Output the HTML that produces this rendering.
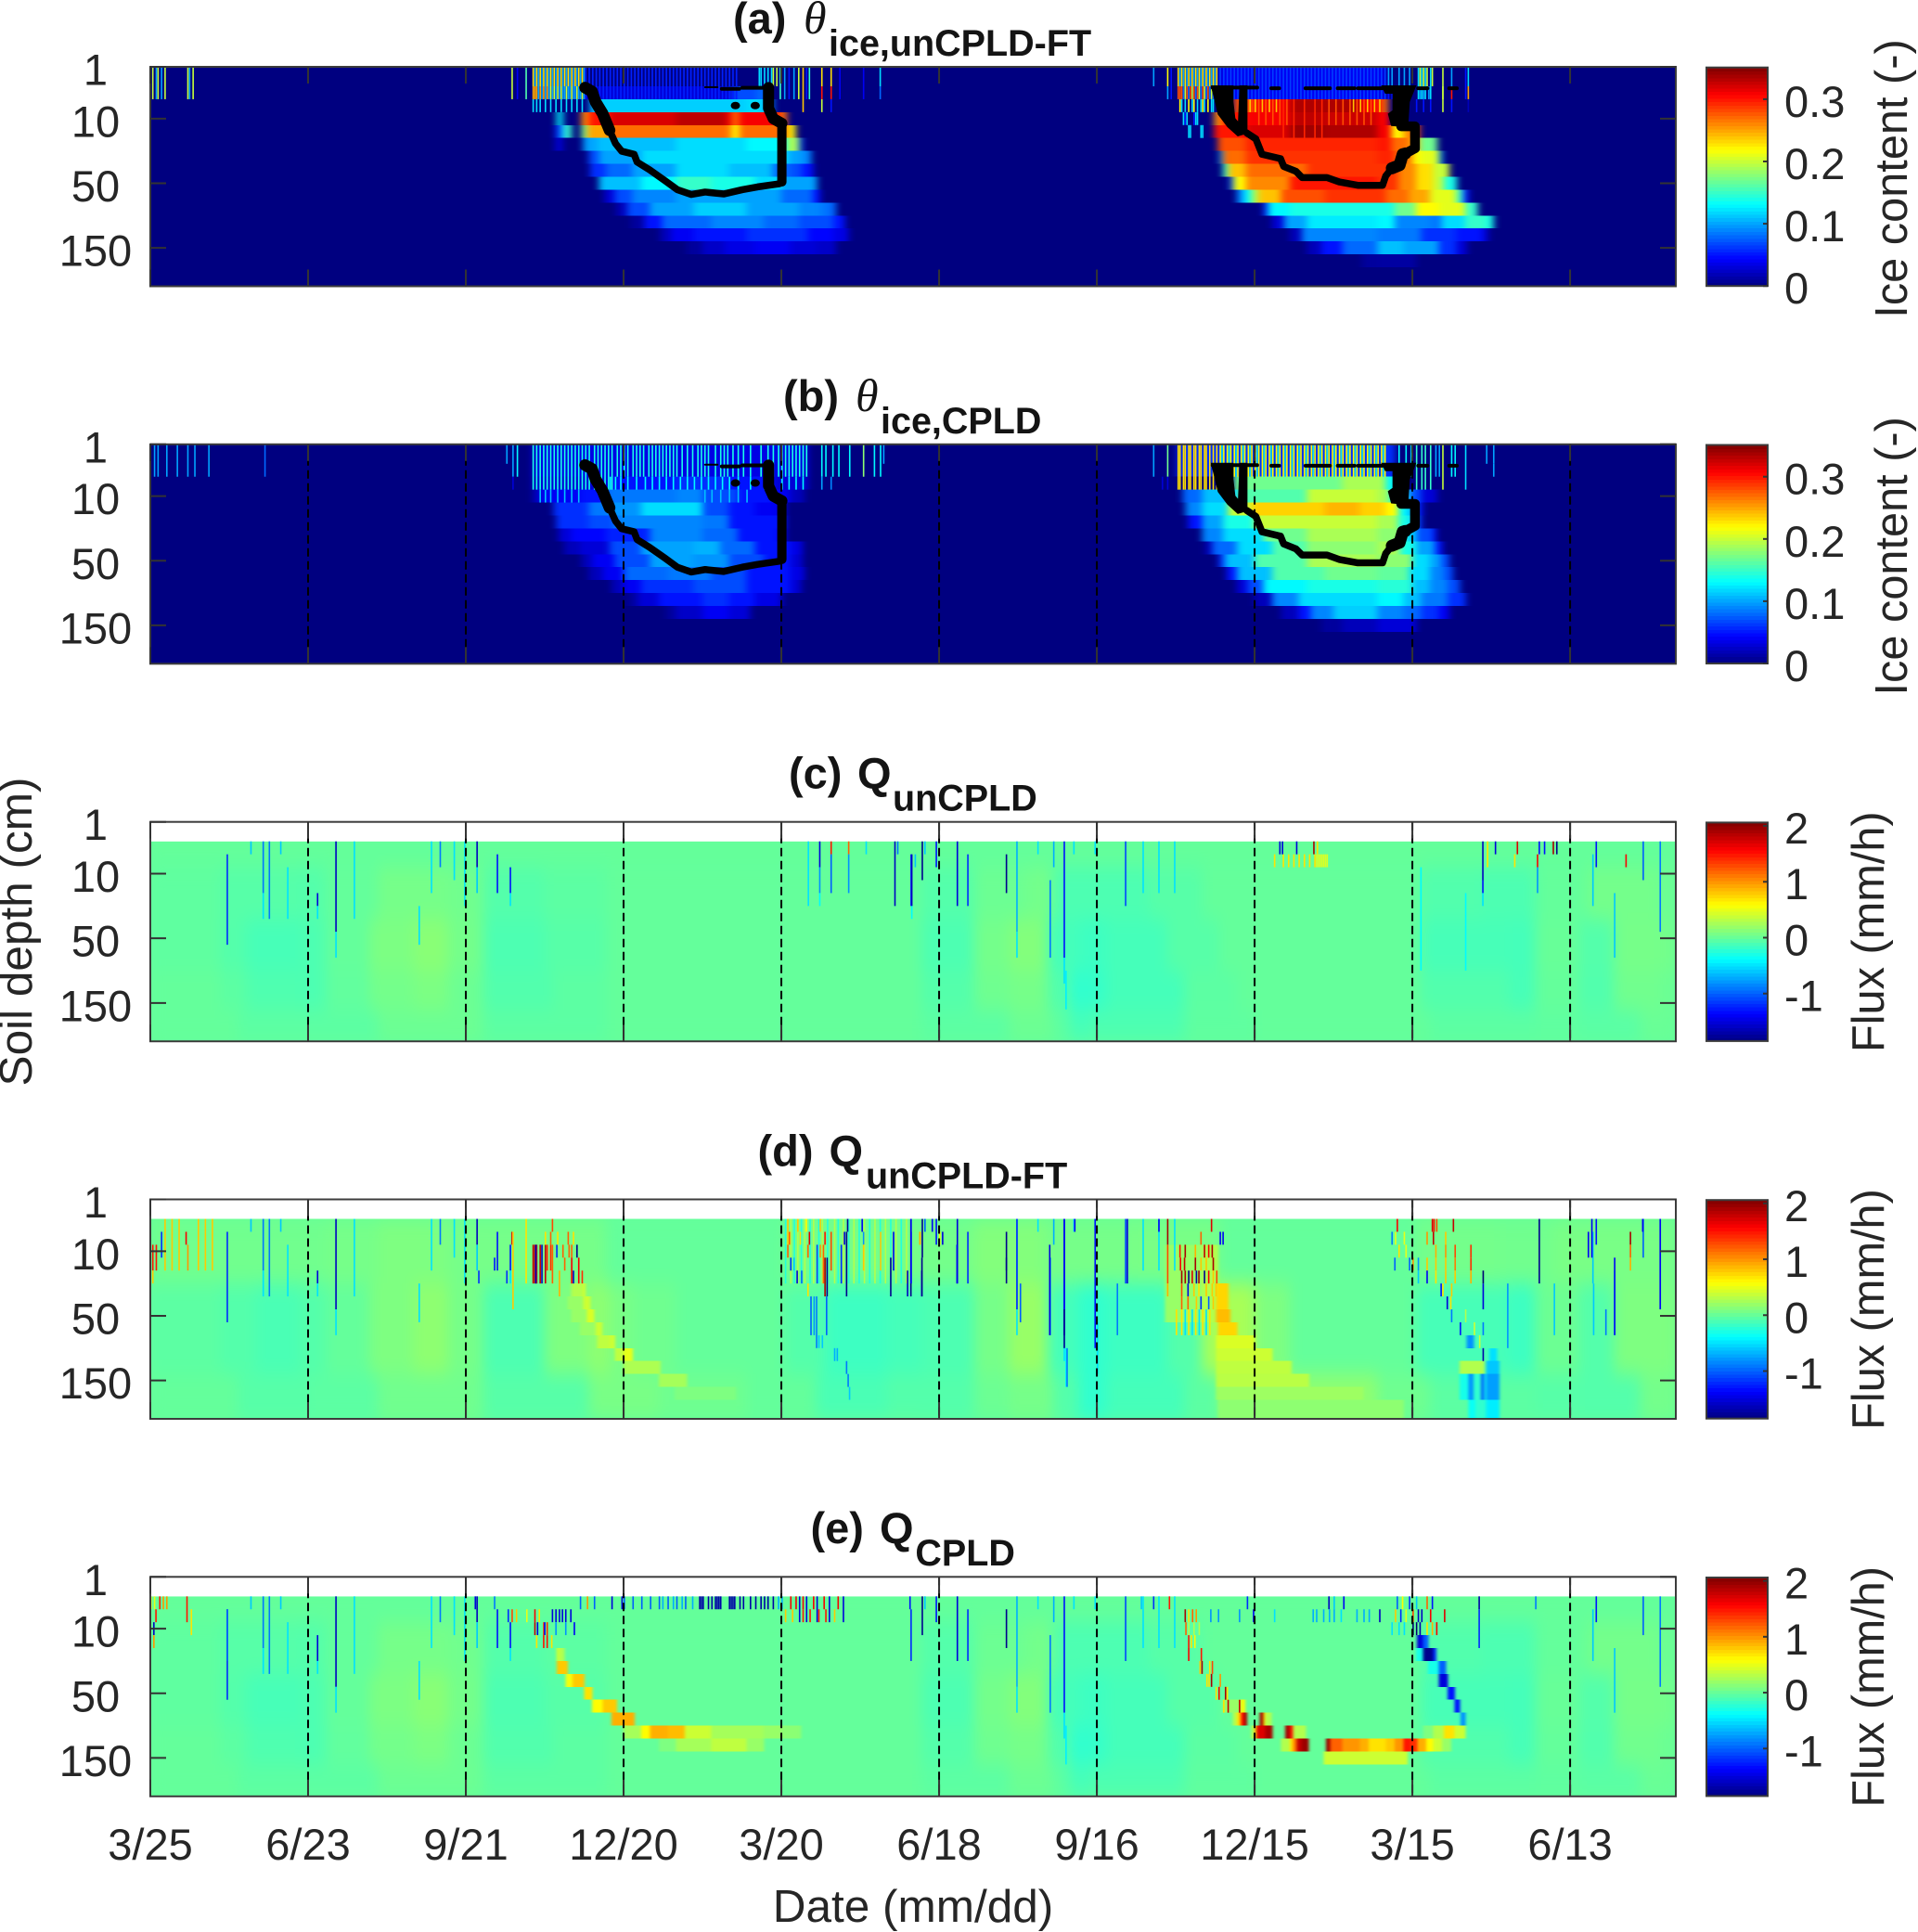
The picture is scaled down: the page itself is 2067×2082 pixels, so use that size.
<!DOCTYPE html>
<html lang="en">
<head>
<meta charset="utf-8">
<title>Soil ice content and flux</title>
<style>
html,body{margin:0;padding:0;background:#fff;width:2067px;height:2082px;overflow:hidden}
svg{display:block}
text{font-family:"Liberation Sans",sans-serif;fill:#262626}
.ttl{font-weight:bold;font-size:47px;fill:#141414}
.sub{font-weight:bold;font-size:39.5px;fill:#141414}
.theta{font-family:"Liberation Serif",serif;font-style:italic;font-size:50px;fill:#141414}
</style>
</head>
<body>
<svg id="chart" xmlns="http://www.w3.org/2000/svg" width="2067" height="2082" viewBox="0 0 2067 2082">
<defs>
<filter id="softSharp" filterUnits="userSpaceOnUse" x="0" y="0" width="2067" height="2082" color-interpolation-filters="sRGB"><feGaussianBlur stdDeviation="1.6 0"/></filter>
<filter id="softIce" filterUnits="userSpaceOnUse" x="0" y="0" width="2067" height="2082" color-interpolation-filters="sRGB"><feGaussianBlur stdDeviation="4 0"/></filter>
<filter id="softBase" filterUnits="userSpaceOnUse" x="0" y="0" width="2067" height="2082" color-interpolation-filters="sRGB"><feGaussianBlur stdDeviation="7 10"/></filter>
</defs>
<g id="panels"></g>
<g>
<text class="ttl" x="790" y="36">(a)</text><text class="theta" x="866" y="36">θ</text><text class="sub" x="893" y="60">ice,unCPLD-FT</text>
<text class="ttl" x="844" y="443">(b)</text><text class="theta" x="922" y="443">θ</text><text class="sub" x="949" y="467">ice,CPLD</text>
<text class="ttl" x="850" y="849.6">(c)</text><text class="ttl" x="924" y="849.6">Q</text><text class="sub" x="962" y="873.6">unCPLD</text>
<text class="ttl" x="816.5" y="1256.4">(d)</text><text class="ttl" x="893.5" y="1256.4">Q</text><text class="sub" x="933" y="1280.4">unCPLD-FT</text>
<text class="ttl" x="873.5" y="1663">(e)</text><text class="ttl" x="948" y="1663">Q</text><text class="sub" x="986.4" y="1687">CPLD</text>
</g>
<text x="984" y="2071" text-anchor="middle" font-size="49.5">Date (mm/dd)</text>
<text x="34" y="1004" text-anchor="middle" font-size="49.5" transform="rotate(-90 34 1004)">Soil depth (cm)</text>
</svg>
<script>
/* ---------- axis data ---------- */
const xTickDays = [0, 90, 180, 270, 360, 450, 540, 630, 720, 810];
const xTickLabels = ['3/25', '6/23', '9/21', '12/20', '3/20', '6/18', '9/16', '12/15', '3/15', '6/13'];
const depthTickRows = [0, 3.5, 8.5, 13.5];
const depthTickLabels = ['1', '10', '50', '150'];
const iceTicks = [0, 0.1, 0.2, 0.3];
const iceTickLabels = ['0', '0.1', '0.2', '0.3'];
const fluxTicks = [-1, 0, 1, 2];
const fluxTickLabels = ['-1', '0', '1', '2'];

/* ---------- heat data: bands = [rowFrom,rowTo, day,value, day,value, ..., endDay]
   stripes = [rowFrom,rowTo,value, day, day, ...] ---------- */
const iceA_bands = [
[3,3,232,.13,235],[4,4,231,.05,233,.09,236,.15,240],[5,5,231,.03,235],
[1,1,248,.03,332,.07,346,.08,352],[2,2,251,.115,340,.12,350,.1,355],
[3,3,246,.26,250,.30,262,.32,300,.33,329,.31,332,.27,336,.31,355,.30,359,.27,363],
[4,4,246,.17,249,.25,262,.27,330,.26,332,.22,336,.27,363,.26,364,.22,368],
[5,5,247,.1,255,.11,300,.12,340,.13,363,.19,370,.07,372],
[6,6,250,.07,256,.1,280,.12,350,.12,364,.10,372,.09,377],
[7,7,251,.06,260,.08,275,.1,300,.12,330,.11,355,.08,365,.07,372,.05,378],
[8,8,256,.11,280,.13,300,.15,320,.14,345,.12,360,.1,380],
[9,9,259,.03,265,.07,275,.09,300,.1,340,.1,360,.08,378,.05,382],
[10,10,266,.02,272,.07,285,.1,310,.115,340,.1,370,.09,382,.085,386,.08,391],
[11,11,274,.01,282,.05,292,.08,320,.09,350,.08,370,.07,390,.05,396],
[12,12,291,.02,297,.04,310,.05,340,.06,375,.045,390,.035,398],
[13,13,306,.01,315,.025,328,.035,345,.04,365,.03,380,.025,391],
[0,1,609,.04,705],
[2,2,618,.28,630,.31,650,.335,665,.335,690,.31,702,.27,706],
[3,3,607,.26,612,.3,625,.31,650,.33,670,.325,700,.31,707],
[4,4,607,.3,625,.32,650,.34,670,.335,700,.31,708,.22,715,.26,720,.28,724],
[5,5,609,.28,625,.295,700,.3,708,.27,718,.25,724,.17,734],
[6,6,610,.1,612,.27,625,.29,700,.295,710,.27,720,.22,725,.21,735,.1,737],
[7,7,612,.15,615,.24,625,.27,660,.29,705,.29,712,.26,722,.23,732,.2,741],
[8,8,616,.08,618,.22,625,.26,650,.3,700,.29,712,.26,722,.23,732,.2,738,.14,745],
[9,9,620,.09,624,.13,628,.19,632,.24,645,.28,670,.29,705,.27,718,.25,730,.21,745,.15,749,.05,752],
[10,10,635,.06,638,.13,650,.14,700,.14,710,.17,722,.22,735,.21,750,.15,757],
[11,11,640,.03,647,.1,660,.125,700,.13,710,.09,730,.085,737,.12,750,.15,762,.14,766],
[12,12,650,.02,657,.09,700,.085,725,.06,745,.05,760,.03,763],
[13,13,660,.02,668,.05,680,.08,700,.11,715,.1,735,.06,745,.03,751],
[14,14,691,.01,700,.012,722]
];
const iceA_stripes = [
[0,1,.2,1,4,8,21,24],[0,1,.1,3,6,22],[0,1,.2,206],[0,1,.04,209],[0,1,.16,214],
[0,0,.23,218,220,222,224,226,228,230,232,234,236,238,240,242,244,246],
[0,0,.1,219,221,223,225,227,229,231,233,235,237,239,241,243,245,247],
[1,1,.25,218,219,220,222,224,226],[1,1,.2,228,230,232,234,237,240,243,246],
[1,1,.1,221,223,225,227,229,231,233,235,236,238,239,241,242,244,245,247],
[2,2,.12,218,220,222,225,228,231,234,237,240,243,246],
[0,1,.055,248,250,252,254,256,258,260,262,264,266,268,270,272,274,276,278,280,282,284,286,288,290,292,294,296,298,300,302,304,306,308,310,312,314,316,318,320,322,324,326,328,330,332,334],
[0,0,.12,347,348,350,352,354],[0,0,.2,355,357],
[0,1,.15,359,375.6],[0,1,.1,361.5,366.8],[0,1,.05,364,374],[0,1,.2,369.5],[0,2,.24,372],
[0,0,.23,382.7,388],[1,1,.3,382.7,388],[2,2,.2,382.7],[2,2,.05,388],[0,1,.04,393,406.5],[0,0,.12,416],[1,1,.08,416],
[0,0,.1,572],[0,0,.22,580],[1,1,.1,580],[0,1,.05,582],
[0,0,.23,586,588,590,592,594,596,598,600,602,604,606,608],
[0,0,.1,587,589,591,593,595,597,599,601,603,605,607],
[1,1,.28,586,587,588,591,593,595,597,600,603],[1,1,.2,590,594,598,601,605,607],[1,1,.08,589,592,596,599,602,604,606],
[2,2,.22,587,592,595,600,603],[2,2,.12,588,590,594,597,599,601,605,606],
[3,3,.12,589,591,596,597],[4,4,.12,592,593,599,600],[3,3,.05,590,595],
[0,1,.065,610,612,614,616,618,620,622,624,626,628,630,632,634,636,638,640,642,644,646,648,650,652,654,656,658,660,662,664,666,668,670,672,674,676,678,680,682,684,686,688,690,692,694,696,698,700,702,704],
[2,2,.24,627,630,634,638,642,686,690,694,698,701],
[2,3,.28,632,636,640,644,648,672,676,680,684,688,692,696],
[2,4,.295,646,652,658,664,668],
[0,0,.1,706,708,712,715,718],[1,1,.05,706,708,712,715],[0,1,.12,723,725,727,730],[0,0,.2,724,726,728,731],[1,1,.1,724,726,729],[2,2,.05,722,726,730],
[0,1,.2,737],[1,2,.2,737],[0,0,.1,742],[1,1,.3,742],[2,2,.05,742],[0,1,.05,750],[0,0,.12,751.5],[1,1,.25,751.5],[2,2,.02,751.5]
];
const iceB_bands = [
[0,1,218,.035,375],[2,2,218,.03,262,.05,300,.06,330,.05,355,.03,375],
[3,3,218,.02,222,.04,245,.05,260,.085,300,.09,315,.07,335,.05,355,.04,365,.02,373],
[4,4,230,.06,250,.085,262,.095,280,.12,310,.12,315,.07,330,.05,345,.04,358,.03,362],
[5,5,231.5,.06,250,.07,265,.09,315,.085,330,.05,358,.05,362],
[6,6,233,.03,240,.045,260,.055,285,.09,315,.08,335,.05,358,.04,362],
[7,7,236,.02,245,.03,262,.07,280,.1,310,.105,325,.08,345,.05,365,.035,372],
[8,8,246,.02,252,.04,265,.07,285,.1,310,.095,330,.07,350,.05,365,.03,372],
[9,9,250,.02,258,.04,270,.08,295,.085,320,.07,340,.05,365,.035,373],
[10,10,263,.02,270,.04,280,.06,310,.07,340,.05,365,.03,371],
[11,11,272,.01,278,.03,290,.05,315,.06,330,.05,345,.035,360],
[12,12,294,.01,300,.025,315,.04,330,.03,342],
[0,1,586,.06,710],
[2,2,618,.17,680,.19,705,.13,712],
[3,3,589,.08,600,.11,620,.16,660,.2,700,.19,707,.14,718,.07,725,.03,734],
[4,4,590.4,.09,600,.12,615,.2,628,.235,670,.245,690,.235,705,.22,712,.13,718,.1,722,.05,725.5],
[5,5,592,.05,600,.1,612,.14,630,.2,660,.2,700,.19,712,.14,719,.11,722,.06,725],
[6,6,600,.09,612,.12,635,.17,660,.19,700,.18,715,.12,722,.07,732,.045,733.5],
[7,7,602,.02,606,.08,620,.12,640,.16,660,.18,700,.19,713,.14,722,.1,733,.05,737],
[8,8,609.5,.06,613,.11,630,.16,660,.19,700,.18,720,.12,730,.1,736,.07,741],
[9,9,614,.05,620,.11,640,.16,670,.17,700,.165,718,.12,730,.09,738,.07,743],
[10,10,620,.03,626,.07,635,.13,660,.14,700,.145,720,.11,730,.09,740,.07,747],
[11,11,630,.02,640,.09,655,.12,700,.13,715,.11,725,.085,740,.06,750],
[12,12,645,.02,655,.05,662,.09,675,.115,700,.09,715,.08,725,.06,735,.04,741],
[13,13,668,.01,680,.02,700,.03,722]
];
const iceB_stripes = [
[0,1,.1,2,4,9,15,21,25,33],[0,1,.08,65],
[0,0,.1,203],[0,1,.1,206.5],[0,1,.13,209],[2,2,.03,206.5],
[0,2,.14,218,220,222,224,226,228,230,232,234,236,238,240,242,244,246,248,250,253,255,257,259,261,263],
[0,1,.14,266,268,270,272,275,277,279,281,284,286,288,290,292,294,296,298,300,303,306,309,312,314,316,318,322,325,327,329,332,335,338,342,348,352,355,358,360,362,364,366,368,370,372,374],
[2,2,.13,262,265,268,272,277,282,286,290,294,298,302,306,310,314,318,322,326,330,335,342,350,360,364,368,372],
[3,3,.11,222,225,228,232,236,240,244,316,320,325,330,335,340],
[0,1,.13,382.7,385,389,392.4,398.6,412.7,416.2],[0,1,.18,406.5],[0,0,.1,418],[2,2,.1,382.7],[2,2,.09,388],
[0,1,.1,572],[0,1,.17,580],[2,2,.03,577,580],
[0,2,.23,586,587,589,590,592,593,595,596,598,599,601,602,604,606,608],
[0,1,.22,610,612,614,616,618,620,622,624,626,628,630,632,634,636,638,640,642,644,646,648,650,652,654,656,658,660,662,664,666,668,670,672,674,676,678,680,682,684,686,688,690,692,694,696,698,700,702,704],
[0,1,.12,611,615,619,623,627,631,635,639,643,647,651,655,659,663,667,671,675,679,683,687,691,695,699,703],
[0,1,.13,712,716,719],[0,2,.15,722,725,727,730],[0,1,.1,733,735],[0,2,.2,737],[0,1,.13,742,744],[0,2,.12,750],[0,0,.1,762,766],[1,1,.1,766]
];
const fluxBase_bands = [
[3,6,0,-.02,40,-.05,80,-.06,100,0,130,.07,170,.05,190,-.06,225,-.03,260,0,440,-.06,470,.03,500,.06,515,-.09,540,-.09,570,-.05,600,0,725,-.07,760,-.09,790,0,820,.06,860,.03,870],
[7,10,0,-.02,40,-.06,55,-.11,85,-.09,100,0,125,.09,150,.14,170,.06,190,-.09,225,-.05,260,0,440,-.09,470,.06,490,.12,512,-.12,530,-.15,545,-.12,580,-.05,610,0,725,-.11,775,-.12,790,.01,815,-.06,835,.07,860,.06,870],
[11,13,0,0,40,-.03,55,-.08,85,-.09,100,-.01,125,.06,150,.09,170,.03,190,-.07,230,-.03,260,0,440,-.06,470,.04,490,.07,512,-.07,525,-.2,535,-.18,545,-.12,590,-.03,620,0,725,-.07,775,-.11,790,0,815,-.07,835,.05,860,.03,870],
[14,15,0,0,50,-.03,90,-.03,130,.03,160,.03,190,-.03,260,0,440,-.03,490,.03,515,-.03,525,-.12,535,-.09,590,-.02,630,0,730,-.03,790,-.02,815,-.04,850,.02,870]
];
const fluxDSoft_bands = [
[1,5,0,.05,100,.07,130,.1,170,.07,260,0,362,.07,440,.06,470,.12,510,.07,560,.08,610,0,722,.06,770,.05,800,.08,870],
[6,12,0,-.03,40,-.06,60,-.1,85,-.06,100,0,125,.1,150,.16,170,.07,190,-.09,225,.1,250,.16,262,.08,275,.04,300,0,362,-.06,385,-.15,420,-.12,440,-.09,470,.07,490,.2,512,-.12,530,-.2,545,-.15,580,-.06,600,.26,630,.1,650,0,722,-.11,775,-.15,790,.03,815,-.06,835,.1,870],
[13,15,0,0,50,-.05,90,-.03,130,.05,160,.05,190,-.05,250,.08,290,.04,340,0,380,-.1,420,-.06,470,.03,490,.07,515,-.06,530,-.2,545,-.12,590,-.03,610,.16,700,.04,730,-.03,790,-.05,815,-.06,850,.06,870]
];
const sharedStreaks = [
[2,8,-1.2,43.5],[1,4,-.9,64],[5,6,-.5,64],[1,6,-.9,67.5],[1,1,-.6,57,74],[3,6,-.5,78],[5,5,-1.5,95],[6,6,-.5,95],
[1,7,-1.6,105.5],[8,9,-.5,105.5],[1,6,-.5,116],[6,8,-.5,153],[1,4,-.5,160],[1,2,-.9,165],[1,3,-.5,173],[1,5,-.5,179],
[1,2,-1.6,186],[3,4,-.6,186],[2,4,-1.3,197.6],[3,4,-1.3,205],[5,5,-.5,205],
[2,5,-1.2,433.6],[1,3,-1.8,440],[1,1,-.6,441.5],[1,2,-1.3,448],[1,5,-1.5,460],[2,5,-1.2,466],[2,4,-1.8,488],[1,7,-.7,494],[8,9,-.5,494],[1,1,-.5,506],
[4,9,-.9,513],[1,2,-.7,515],[1,9,-1.3,521],[10,11,-.5,521],[11,13,-.45,522],[1,1,-.5,526.5,538.6],[1,5,-1.1,556],[1,4,-.5,566,575,584],
[2,5,-.6,822.6],[1,2,-1.3,824.5],[1,3,-1,851.3],[1,7,-.9,861],[5,9,-.6,835]
];
const fluxC_stripes = [
[1,5,-.5,375],[1,2,-1.5,381.5],[3,4,-.8,381.5],[5,5,-.4,381.5],[1,1,1.5,388],[2,4,-1,388],[1,1,1.2,398],[2,4,-.8,398],[1,1,-.5,408],[1,5,-1.6,424.4],[1,1,-.9,426],[2,5,-1.6,434],[6,6,-.4,434],[2,2,-.6,436],
[3,10,-.4,724.5],[5,10,-.4,750],
[1,1,-1.5,644,645.5,653.6],[1,1,1.9,663.4],[1,1,.7,665.4],
[2,2,.7,641,646,649,652,655,658,661,664],[2,2,.45,665,666,667,668,669,670,671],
[1,3,-1.6,759.8],[4,4,-1.3,759.8],[5,5,-.5,759.8],[1,2,.7,762.5],[1,1,-1.5,767],[1,1,1.7,779.5],[2,2,.7,778],[2,2,1.6,791],[3,4,-.8,791],[1,1,-1.3,792,795],[1,1,1.9,800],[1,1,-1.8,802],[2,2,1.6,841.5]
];
const fluxD_bands = [
[6,6,240,.3,247,.45,248],[7,7,238,.2,247,.4,251],[8,8,240,.2,249,.45,253],[9,9,245,.2,254,.4,257.5],[10,10,255,.35,262,.4,265],
[11,11,265,.35,270,.5,275],[12,12,270,.28,291],[13,13,290,.25,306],[14,14,299,.1,334],
[3,8,579,.2,600,.3,609],
[6,7,608,.75,615],[8,8,608,.85,616],[9,9,609,.75,620],[10,10,608,.45,630],[11,11,608,.4,640],[12,12,608,.35,651],[13,13,608,.33,661],[14,14,608,.22,692],[15,15,609,.16,715],
[12,12,747,.3,761,0,762,-.6,769.5],[13,14,747,-.3,752,-.8,755,-.2,759,-1,761,-.3,762,-.75,769.5],[15,15,752,-.35,756,-.2,762,-.45,769.5],
[10,10,751,-.8,755],[11,11,764,-.5,768]
];
const fluxD_stripes = [
[3,4,1.5,1,3],[5,5,.8,1],[2,3,-1.2,6],[2,2,1.6,20],[3,4,1,21],
[1,4,.8,8,12,16,27,31,35],
[2,2,1.7,206],[2,7,.8,206.5],[3,5,1.8,218,219,220,222,225],[3,4,1.4,226,228],[3,5,1.2,229],[3,5,-1.6,219.5,223],[3,3,-1.2,231.5],[5,6,.9,233],
[3,3,1.2,235,238.5,240],[3,3,-1.8,243],[4,4,1.2,236],[4,5,1.6,240,244],[5,5,-1.6,241],[5,5,1.4,246],[1,5,.7,214],[1,1,1.3,229],[2,2,.7,225,232,241],[2,2,1.2,228,238],
[4,4,-1.3,196],[5,5,-1.2,187,203],
[1,5,-.25,362,367,371,376,381,386,392,398,404,410,416,422,428],[1,5,.3,365,369,373,378,383,390,395,401,407,413,419,425,431],
[1,2,.8,363.3],[3,3,1.2,363.3],[2,2,1.2,364.2],[4,4,-1.2,365],[4,4,-.6,366.8],[5,5,-1.5,368.6],[5,5,-1,371.2],[1,1,.8,369],[1,1,.6,373.9],[2,2,.7,370.4],[3,3,1.2,374.8],[2,2,1.7,375.6],[6,6,.7,374.8],[7,9,-1,376.5],[7,9,-.8,378.3],[7,10,-.9,379.7],
[3,5,-1.1,380],[1,1,.8,381.8],[3,3,1,381.8],[3,5,1.2,383.6],[4,6,1.9,384.5],[2,2,1.5,384.5],[4,6,-1.8,385.7],[7,9,-1,385.4],[2,4,1.3,388],[10,10,-.6,381,383],[11,11,-.7,390,391.5],[12,12,-.9,396.8],[13,13,-.9,397.7],[14,14,-.6,398.5],
[3,5,-1.2,393.8],[2,2,-1.5,395.6],[2,6,-1.8,396.8],[1,1,-1.8,397.4],[1,1,-1.4,405.7],[2,2,-.8,406.5],[3,4,.8,406.5],[2,4,.8,416.2],[2,4,-1.4,423.6],[4,6,-1.8,422],[5,6,-1.6,431.6],[1,6,-1.8,433.5],[2,2,1,438.7],[5,6,-1.5,439.7],[1,1,-1,441.5],
[1,5,-1.4,433.6],[2,2,.9,438.6],[1,1,-1.4,445.7],[2,2,.6,450],[2,2,-1.5,451.6],[4,6,-1.8,439.8],[3,5,-1.4,459.8],[4,5,-1.8,488],[1,7,-1.2,494],[6,8,-1,496],[3,9,-1.5,512.7],[1,9,-1.4,521],[8,10,-1.8,521],[1,1,-1.4,527],[11,13,-.9,522.6],[1,10,-1.3,538.6],[9,12,-.5,540],[1,5,-1.5,557],[6,9,-.9,551.3],[1,1,-1.4,575],
[1,2,1.9,580],[3,5,1.3,580],[6,6,.9,580],[1,1,1.7,605],[2,2,-1.4,610,611.6],[2,2,1.2,599],
[3,3,1.5,587],[3,3,1.9,590,605.4],[3,3,.9,595.8],[3,3,1.8,601],[3,3,1.6,603.4],
[4,4,1.6,587.3],[4,4,1.8,589.6],[4,4,1.9,595.8,606],[4,4,.8,599,602],
[5,5,1.9,588,590,597.8],[5,5,-1.8,592,601],[5,5,1.7,594],[5,5,-1.7,596.4],[5,5,1.6,603.4],[5,5,.8,606],[5,5,1.3,608],
[6,6,1.3,588],[6,6,-1.5,591.6],[6,6,.8,595,602,605.4,607.6],[6,6,.7,597.8],
[7,7,1.2,588,591.6],[7,7,.8,596.4,606],[7,7,-1.2,599],[7,7,-1,603.4],
[8,9,.7,585,588,592,596,600,604],[8,9,-.5,590,594,598,602],
[1,1,1.6,711],[2,2,-.9,708],[2,2,.5,710,715],[3,3,.7,712],[3,3,.5,716],[4,4,-1,709.6,718],[4,4,1,720],
[1,1,1.7,731],[1,1,1.5,732],[1,1,1.3,733.5],[1,1,1.8,743],[2,2,1,728],[2,2,1.8,731.6],[2,2,.8,738.6],[3,3,.9,733],[3,3,1,738.6],[3,3,1.3,744],[3,3,1.4,753],[4,4,-.8,723],[4,4,.8,728,733,738.6],[4,4,1.1,744],[4,4,1.4,753],[5,5,-.6,723],[5,5,-1.4,728],[5,5,.7,733],[5,5,.8,738.6,744],[5,5,.9,753],[5,5,-1.9,760],
[6,6,-1.3,736],[6,6,.7,737],[6,6,.8,742],[6,7,-1.5,760],[7,7,-1.5,739.5],[7,7,.7,741.5],[8,8,-.9,742],[8,8,.3,750],[9,9,-1.3,747],[9,9,.4,755],[9,9,-.9,760],[10,10,.4,758],[11,11,-1.7,760],
[1,5,-1.8,792],[1,3,-1.4,822],[2,3,-1.4,820],[2,2,1.9,844],[3,3,1.2,844],[4,4,.9,844],[1,1,-1.4,851],[1,7,-1.4,861],[4,9,-1.4,835],[8,9,-.9,830],[6,9,-.6,823],[6,10,-.8,774],[6,9,-.6,800.6]
];
const fluxE_bands = [
[5,5,232,.5,233,.3,236],[6,6,232,.8,238],[7,7,237,.55,241,.8,247.5],[8,8,247.5,.7,252],[9,9,252,.6,258,.8,266],[10,10,263,.9,276],
[11,11,270,.25,280,.6,285,.9,295,.85,305,.4,320,.25,350,.2,360,.15,371],[12,12,290,.1,300,.25,320,.35,340,.2,350],
[9,9,612,.2,622,.6,624.5],[10,10,617.5,.3,620,.7,622,1.5,624,1.9,625.4],[10,10,633,1.9,635,.7,636,.3,639.5],
[11,11,628,.3,630,.8,631,1.7,636,1.9,640],[11,11,647.5,1.9,650,1.5,652,.3,659],
[12,12,645,.3,650,.7,652,1.1,654,1.8,657,1.95,660.7],
[12,12,670.7,1.95,673,1.2,680,1.0,690,.9,695,.7,705,.8,710,1,715,1.5,719,1.4,723,.9,728,.6,732,.4,737,.2,742],
[13,13,669.5,.4,717],
[11,11,726,.1,732,.3,738,.7,744,.4,750],
[4,4,722.5,-1.5,726,-1,729],[5,5,722,-.3,726,-1.8,732,-1.2,733.5],[6,6,729,-.3,735,-1,739],[7,7,735,-1.5,740],[8,8,740,-1.3,744],[9,9,744,-1.3,747],[10,10,747.5,-.8,750]
];
const fluxE_stripes = [
[1,1,.5,0,2],[1,1,1.5,5],[1,1,1,7,9],[2,2,1.5,2.8],[1,2,1.5,20.5],[3,3,-1.6,1.6],[4,4,1,1.6],[2,3,.7,23],[2,5,-1,43.5],[4,4,-1.5,95],
[1,1,-1.5,185],[1,1,-.9,196],[2,2,-1.2,203.8],[2,2,1.3,206],[2,2,.8,208.5],[2,2,.5,214.4],[2,2,1.6,219],[2,2,.7,221.5],[2,2,-1.5,229,231,233,234.7,236.6,239.5],
[3,3,1.8,219],[3,3,-1.5,220.5],[3,3,1.3,224],[3,3,1.4,226],[3,3,-1.4,224.6,241.5],[3,3,-.8,231,236.6],[4,4,.7,220,228.6],[4,4,1.5,224,226],
[1,1,-1,245,253],[1,1,1,249],[1,1,-1.5,263,268.7],
[1,1,-1,270,275,280,285,290,295,300,305],[1,1,-.7,292,298,303,309,358,360],
[1,1,-1.7,313,314,315,318,320,322,323,324,325,330,331,332,333,336,338,342,345,348,350,352,355],
[1,1,1.6,365,368,372,378,384,392],[2,2,1.5,372,376,381,385],[1,2,-1.5,370,374,380,387,395],[2,2,.8,362,366,390],
[1,1,-1.3,433],[1,1,-.6,565],[1,1,-1.2,572],[1,1,1.5,581],[2,2,1.9,590],[2,2,.7,592],[2,2,1.2,594.2],[2,2,1,596.3],[1,1,-1.2,625.5],
[2,2,-.8,604.6,609,621],[2,2,-1.4,629],[2,2,-.5,641],[3,3,1.2,590.4],[3,3,.3,592,595,598],
[4,4,1.5,592],[4,4,.7,593.5],[4,4,.6,595.5],[5,5,1.6,592],[5,5,1.5,599.2],[6,6,.8,598.5],[6,6,1.9,599.6],[6,6,.7,604],[6,6,1.3,605.5],
[7,7,.7,602.4,603.6],[7,7,1.9,605],[7,7,1,610],[8,8,.7,607.7],[8,8,1.6,609.3],[8,8,1.9,613],[8,8,.7,614],[9,9,.7,612],[9,9,1.8,614.5,621],
[1,1,-1.6,672],[1,1,-1.4,680.5],[1,1,-.6,675],[2,2,-.7,663,665,669,672.3,675,688,692,695],[2,2,-1.6,701],[2,2,-.5,679],
[2,2,.8,710],[2,2,-1.2,713],[2,2,.5,716],[3,3,-.5,708,712,715],[1,1,-1,711],[1,1,.6,714],[1,1,-1.2,718],
[1,1,-.6,722],[1,1,1.2,728],[1,1,-1.3,731],[2,2,1.3,720],[2,2,-1.6,723,725],[2,2,1.6,730],[2,2,1.7,738],
[3,3,-1.9,720,722],[3,3,-1.7,724],[3,3,.7,728],[3,3,.9,731],[3,3,1.6,733.5],[1,1,-1.7,757.7],[2,4,-1.2,757.7],[1,1,-.9,790]
];

/* ---------- thaw-front contour data: [day, row position] ---------- */
const frontWedge1 = [[248,1.1],[252,1.4],[254,2.2],[258,3.1],[262,4.4]];
const frontMid1 = [[262,4.4],[265.4,5.43],[268.9,6.02],[276,6.26],[277.7,6.86],[284.8,7.46],[293.6,8.3],[300.7,9.0],[308.6,9.37],[316.5,9.18],[327.1,9.33],[337.7,9.0],[346.5,8.78],[358.9,8.54],[360.7,8.4]];
const frontColumn1 = [[360.3,8.4],[360.3,3.87]];
const frontUpper1 = [[360.3,3.87],[355.4,3.5],[352.7,2.7],[352.7,1.1]];
const frontDashes1 = [[[326,1.2],[336,1.2]],[[337.7,1.12],[352.7,1.12]]];
const frontThin1 = [[316.5,1.07],[323.6,1.07]];
const frontDots1 = [[333.8,2.49],[345.1,2.49]];
const frontBlobLeft2 = [[605.6,1],[617.4,1],[617.4,2.2],[618.5,3.5],[621,3.9],[621.9,1],[625.4,1],[625.4,4.6],[620.5,4.8],[614.8,4.1],[609.5,3.15],[607.5,2]];
const frontBlobRight2 = [[703,1],[721.5,1],[718,2.2],[717.1,4.1],[708.3,4],[706.6,3.15],[709.2,2.9],[709.2,1.5],[704.8,1.5]];
const frontMid2 = [[625.4,4.6],[630.7,5.07],[634.2,6.26],[644.8,6.6],[646.6,7.2],[653.6,7.58],[657.1,8.06],[671.3,8.06],[678.3,8.4],[688.9,8.66],[703,8.66],[704.8,7.94],[708.3,7.34]];
const frontThick2 = [[708.3,7.34],[712.7,7.1],[714.5,6.26],[716,6.2]];
const frontRight2 = [[716,6.2],[721.5,5.8],[721.5,4.1],[713.6,4.1]];
const frontDashes2 = [[[606,1.1],[631.5,1.1]],[[639.5,1.15],[644,1.15]],[[659,1.15],[673,1.15]],[[677.4,1.15],[687,1.15]],[[689,1.15],[703,1.15]],[[723.3,1.15],[728.6,1.15]],[[741,1.15],[745.4,1.15]]];

/* ---------- scales ---------- */
const SVGNS = 'http://www.w3.org/2000/svg';
const PLOT_LEFT = 162, PX_PER_DAY = 1.889, PLOT_WIDTH = 1644, PLOT_HEIGHT = 236.5, ROW_H = 13.93;
const panelTops = [72, 478.8, 885.7, 1292.5, 1699.3];
const ICE_MIN = 0, ICE_MAX = 0.351, FLUX_MIN = -1.85, FLUX_MAX = 2.06;
function xDay(d) { return PLOT_LEFT + d * PX_PER_DAY; }
function rowY(p) { return p < 1 ? 21 * p : 21 + (p - 1) * ROW_H; }
function jet(t) {
  const c = v => Math.round(255 * Math.max(0, Math.min(1, v)));
  return 'rgb(' + c(Math.min(4 * t - 1.5, -4 * t + 4.5)) + ',' + c(Math.min(4 * t - 0.5, -4 * t + 3.5)) + ',' + c(Math.min(4 * t + 0.5, -4 * t + 2.5)) + ')';
}
function iceColor(v) { return jet((v - ICE_MIN) / (ICE_MAX - ICE_MIN)); }
function fluxColor(v) { return jet((v - FLUX_MIN) / (FLUX_MAX - FLUX_MIN)); }
function make(tag, attrs, parent) {
  const el = document.createElementNS(SVGNS, tag);
  for (const k in attrs) el.setAttribute(k, attrs[k]);
  parent.appendChild(el);
  return el;
}
function drawBands(group, top, bands, color, filterId) {
  const layer = make('g', { filter: 'url(#' + filterId + ')', 'shape-rendering': 'crispEdges' }, group);
  
  
  bands.forEach(b => {
    for (let r = b[0]; r <= b[1]; r++) {
      const y0 = top + rowY(r), y1 = top + (r === 15 ? PLOT_HEIGHT : rowY(r + 1));
      for (let i = 2; i + 2 < b.length; i += 2) {
        const x0 = xDay(b[i]), x1 = xDay(b[i + 2]);
        const el = make('rect', { x: x0, y: y0, width: x1 - x0 + 0.5, height: y1 - y0, fill: color(b[i + 1]) }, layer);
        
        
      }
    }
  });
}
function drawStripes(group, top, stripes, color) {
  const layer = make('g', {}, group);
  
  
  stripes.forEach(s => {
    const y0 = top + rowY(s[0]), y1 = top + (s[1] === 15 ? PLOT_HEIGHT : rowY(s[1] + 1));
    for (let i = 3; i < s.length; i++) {
      const el = make('rect', { x: xDay(s[i]), y: y0, width: PX_PER_DAY * 0.85, height: y1 - y0, fill: color(s[2]) }, layer);
      
      
    }
  });
}
function drawFront(group, top, pts, width) {
  const p = pts.map(q => xDay(q[0]) + ',' + (top + rowY(q[1]))).join(' ');
  const el = make('polyline', { points: p, fill: 'none', stroke: '#000', 'stroke-width': width, 'stroke-linejoin': 'round', 'stroke-linecap': 'round' }, group);
  
  
}
function drawBlob(group, top, pts) {
  const p = pts.map(q => xDay(q[0]) + ',' + (top + rowY(q[1]))).join(' ');
  const el = make('polygon', { points: p, fill: '#000', stroke: '#000', 'stroke-width': 2 }, group);
  
  
}
function drawContours(group, top) {
  drawFront(group, top, frontWedge1, 12.5);
  drawFront(group, top, frontMid1, 7.5);
  drawFront(group, top, frontColumn1, 10);
  drawFront(group, top, frontUpper1, 12);
  drawFront(group, top, frontThin1, 2);
  frontDashes1.forEach(d => drawFront(group, top, d, 4));
  frontDots1.forEach(d => {
    const el = make('ellipse', { cx: xDay(d[0]), cy: top + rowY(d[1]), rx: 5, ry: 4, fill: '#000' }, group);
    
    
  });
  drawBlob(group, top, frontBlobLeft2);
  drawBlob(group, top, frontBlobRight2);
  drawFront(group, top, frontMid2, 7.5);
  drawFront(group, top, frontThick2, 13);
  drawFront(group, top, frontRight2, 10.5);
  frontDashes2.forEach(d => drawFront(group, top, d, 4));
}
function addText(parent, str, x, y, anchor, size, name) {
  const el = make('text', { x: x, y: y, 'text-anchor': anchor, 'font-size': size }, parent);
  el.textContent = str;
  
  
  return el;
}
function drawPanel(idx, key, kind, softSets, bandSets, stripeSets, showXLabels) {
  const root = document.getElementById('panels');
  const top = panelTops[idx];
  const bottom = top + PLOT_HEIGHT;
  const right = PLOT_LEFT + PLOT_WIDTH;
  const color = kind === 'ice' ? iceColor : fluxColor;
  const g = make('g', {}, root);
  
  
  const clip = make('clipPath', { id: 'clip-' + key }, g);
  make('rect', { x: PLOT_LEFT, y: top, width: PLOT_WIDTH, height: PLOT_HEIGHT }, clip);
  const plot = make('g', { 'clip-path': 'url(#clip-' + key + ')' }, g);
  
  
  const bgTop = kind === 'ice' ? 0 : 21;
  const bg = make('rect', { x: PLOT_LEFT, y: top + bgTop, width: PLOT_WIDTH, height: PLOT_HEIGHT - bgTop, fill: color(0) }, plot);
  
  
  softSets.forEach(b => drawBands(plot, top, b, color, 'softBase'));
  if (kind !== 'ice') {
    const mask = make('rect', { x: PLOT_LEFT, y: top, width: PLOT_WIDTH, height: 21, fill: '#fff' }, plot);
    
    
  }
  bandSets.forEach(b => drawBands(plot, top, b, color, kind === 'ice' ? 'softIce' : 'softSharp'));
  stripeSets.forEach(s => drawStripes(plot, top, s, color));
  if (kind === 'ice') drawContours(plot, top);
  /* dashed season lines */
  if (idx > 0) {
    xTickDays.slice(1).forEach(d => {
      const el = make('line', { x1: xDay(d), x2: xDay(d), y1: top, y2: bottom, stroke: '#000', 'stroke-width': 2, 'stroke-dasharray': '9 5' }, g);
      
      
    });
  }
  /* frame */
  const frame = make('rect', { x: PLOT_LEFT, y: top, width: PLOT_WIDTH, height: PLOT_HEIGHT, fill: 'none', stroke: '#3c3c3c', 'stroke-width': 2 }, g);
  
  
  /* x ticks */
  xTickDays.forEach((d, i) => {
    const a = make('line', { x1: xDay(d), x2: xDay(d), y1: top, y2: top + 18, stroke: '#333', 'stroke-width': 2 }, g);
    
    
    const b = make('line', { x1: xDay(d), x2: xDay(d), y1: bottom - 18, y2: bottom, stroke: '#333', 'stroke-width': 2 }, g);
    
    
    if (showXLabels) addText(g, xTickLabels[i], xDay(d), 2004, 'middle', 47, 'x-tick-label');
  });
  /* y ticks */
  depthTickRows.forEach((p, i) => {
    const y = top + rowY(p);
    const a = make('line', { x1: PLOT_LEFT, x2: PLOT_LEFT + 17, y1: y, y2: y, stroke: '#333', 'stroke-width': 2 }, g);
    
    
    const b = make('line', { x1: right - 17, x2: right, y1: y, y2: y, stroke: '#333', 'stroke-width': 2 }, g);
    
    
    addText(g, depthTickLabels[i], 103, y + 19.5, 'middle', 47, 'y-tick-label');
  });
  /* colour bar */
  const cbLeft = 1839, cbW = 66;
  const cbTop = top + 0.7, cbH = PLOT_HEIGHT - 1;
  const vMin = kind === 'ice' ? ICE_MIN : FLUX_MIN, vMax = kind === 'ice' ? ICE_MAX : FLUX_MAX;
  const cb = make('g', { 'shape-rendering': 'crispEdges' }, g);
  
  
  for (let i = 0; i < 64; i++) {
    const el = make('rect', { x: cbLeft, y: cbTop + cbH * (1 - (i + 1) / 64), width: cbW, height: cbH / 64 + 0.6, fill: jet((i + 0.5) / 64) }, cb);
    
    
  }
  const cbf = make('rect', { x: cbLeft, y: cbTop, width: cbW, height: cbH, fill: 'none', stroke: '#3c3c3c', 'stroke-width': 2 }, g);
  
  
  const ticks = kind === 'ice' ? iceTicks : fluxTicks;
  const labels = kind === 'ice' ? iceTickLabels : fluxTickLabels;
  ticks.forEach((v, i) => {
    const y = cbTop + cbH * (1 - (v - vMin) / (vMax - vMin));
    const t = make('line', { x1: cbLeft + cbW - 5, x2: cbLeft + cbW, y1: y, y2: y, stroke: '#333', 'stroke-width': 2 }, g);
    
    
    addText(g, labels[i], 1923, y + 19, 'start', 47, 'colorbar-tick-label');
  });
  const lx = kind === 'ice' ? 2055 : 2030;
  const ly = top + (kind === 'ice' ? 120.5 : 118.5);
  const lab = addText(g, kind === 'ice' ? 'Ice content (-)' : 'Flux (mm/h)', lx, ly, 'middle', 48.7, 'colorbar-title');
  lab.setAttribute('transform', 'rotate(-90 ' + lx + ' ' + ly + ')');
}
drawPanel(0, 'a', 'ice', [], [iceA_bands], [iceA_stripes], false);
drawPanel(1, 'b', 'ice', [], [iceB_bands], [iceB_stripes], false);
drawPanel(2, 'c', 'flux', [fluxBase_bands], [], [sharedStreaks, fluxC_stripes], false);
drawPanel(3, 'd', 'flux', [fluxBase_bands, fluxDSoft_bands], [fluxD_bands], [sharedStreaks, fluxD_stripes], false);
drawPanel(4, 'e', 'flux', [fluxBase_bands], [fluxE_bands], [sharedStreaks, fluxE_stripes], true);
</script>
</body>
</html>
